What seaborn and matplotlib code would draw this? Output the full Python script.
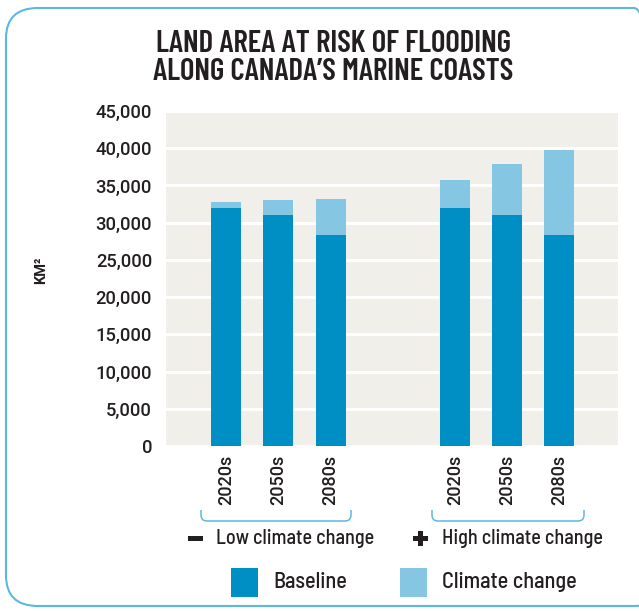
import numpy as np
import pandas as pd
import seaborn as sns
import matplotlib.pyplot as plt
from matplotlib.patches import FancyBboxPatch, Rectangle, PathPatch
from matplotlib.path import Path

# data
periods = ["2020s", "2050s", "2080s", "2020s", "2050s", "2080s"]
scenarios = ["Low", "Low", "Low", "High", "High", "High"]
baseline = [32000, 31000, 28400, 32000, 31000, 28400]
total = [32800, 33000, 33200, 35750, 37900, 39800]
positions = [0, 1, 2, 4.38, 5.38, 6.38]

BASE_COL = "#008FC4"
CC_COL = "#85C6E3"
BG_COL = "#F0EFEA"
LINE_COL = "#5BB9E1"
TXT = "#231F20"
TICK_FONT = ['Roboto', 'DejaVu Sans']

df = pd.DataFrame({"pos": positions, "period": periods, "scenario": scenarios,
                   "baseline": baseline, "total": total})

sns.set_theme(style="white")
plt.rcParams['font.family'] = ['Barlow Semi Condensed', 'DejaVu Sans']

W, H = 639, 611
fig = plt.figure(figsize=(W / 100, H / 100), dpi=100)


def fx(px):
    return px / W


def fy(py):
    return 1 - py / H


ax = fig.add_axes([fx(166), fy(446), fx(618) - fx(166), fy(111) - fy(446)])
ax.set_facecolor(BG_COL)

# stacked bars: total (light) behind baseline (dark)
sns.barplot(data=df, x="pos", y="total", native_scale=True, width=0.574,
            color=CC_COL, saturation=1, errorbar=None, ax=ax, zorder=3)
sns.barplot(data=df, x="pos", y="baseline", native_scale=True, width=0.574,
            color=BASE_COL, saturation=1, errorbar=None, ax=ax, zorder=4)
for p in ax.patches:
    p.set_linewidth(0)

ax.set_xlim(-1.15, 7.5)
ax.set_ylim(0, 45000)
yt = np.arange(0, 45001, 5000)
ax.set_yticks(yt)
ax.set_yticklabels([f"{v:,}" for v in yt], fontsize=13.2, color=TXT,
                   fontweight=500, family=TICK_FONT)
ax.yaxis.grid(True, color="white", linewidth=2.2, zorder=1)
ax.set_axisbelow(True)
ax.set_xticks(positions)
ax.set_xticklabels(periods, rotation=90, fontsize=13, color=TXT,
                   fontweight=500, family=TICK_FONT)
ax.tick_params(axis="x", length=0, pad=6.5)
ax.tick_params(axis="y", length=0, pad=10)
ax.set_xlabel("")
ax.set_ylabel("")
for s in ax.spines.values():
    s.set_visible(False)

# title
fig.text(fx(333), fy(58), "LAND AREA AT RISK OF FLOODING\nALONG CANADA\u2019S MARINE COASTS",
         ha="center", va="center", fontsize=22.4, fontweight=600, color=TXT,
         linespacing=0.99, family=['Barlow Condensed', 'DejaVu Sans'])

fig.text(fx(41), fy(270), "KM\u00b2", rotation=90, ha="center", va="center",
         fontsize=10.5, fontweight=600, color=TXT, family=TICK_FONT)


# group brackets
def bracket(x0, x1, y0, y1, r=6):
    verts = [(fx(x0), fy(y0)), (fx(x0), fy(y1 - r)), (fx(x0), fy(y1)), (fx(x0 + r), fy(y1)),
             (fx(x1 - r), fy(y1)), (fx(x1), fy(y1)), (fx(x1), fy(y1 - r)), (fx(x1), fy(y0))]
    codes = [Path.MOVETO, Path.LINETO, Path.CURVE3, Path.CURVE3,
             Path.LINETO, Path.CURVE3, Path.CURVE3, Path.LINETO]
    fig.patches.append(PathPatch(Path(verts, codes), transform=fig.transFigure,
                                 fill=False, edgecolor=LINE_COL, linewidth=1.1))


bracket(201, 351, 510, 521)
bracket(432, 584, 510, 521)

# minus and plus markers
fig.patches.append(Rectangle((fx(188), fy(541)), fx(15), fy(536) - fy(541),
                             transform=fig.transFigure, facecolor=TXT, edgecolor="none"))
fig.patches.append(Rectangle((fx(413), fy(541)), fx(15), fy(536) - fy(541),
                             transform=fig.transFigure, facecolor=TXT, edgecolor="none"))
fig.patches.append(Rectangle((fx(418), fy(546)), fx(5), fy(531) - fy(546),
                             transform=fig.transFigure, facecolor=TXT, edgecolor="none"))
fig.text(fx(216), fy(539), "Low climate change", ha="left", va="center",
         fontsize=14.5, fontweight=500, color=TXT)
fig.text(fx(442), fy(539), "High climate change", ha="left", va="center",
         fontsize=14.5, fontweight=500, color=TXT)

# legend
for x0, col, label in [(231, BASE_COL, "Baseline"), (400, CC_COL, "Climate change")]:
    fig.patches.append(Rectangle((fx(x0), fy(597)), fx(27), fy(568) - fy(597),
                                 transform=fig.transFigure, facecolor=col, edgecolor="none"))
    fig.text(fx(x0 + 42), fy(582), label, ha="left", va="center", fontsize=16,
             fontweight=500, color=TXT)

# rounded frame
fig.patches.append(FancyBboxPatch((fx(6), fy(606)), fx(660), fy(8) - fy(606),
                                  boxstyle="round,pad=0,rounding_size=0.05",
                                  transform=fig.transFigure, fill=False,
                                  edgecolor=LINE_COL, linewidth=1.5))

fig.savefig("out.png", dpi=100)
